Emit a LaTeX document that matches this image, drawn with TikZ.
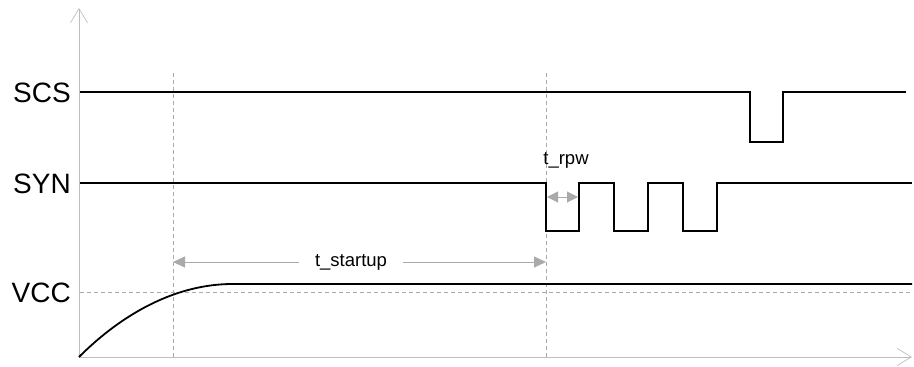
\documentclass[tikz,border=0pt]{standalone}
\usepackage{fontspec}
\setmainfont{Liberation Sans}
\usetikzlibrary{positioning, arrows.meta}

\definecolor{axisgray}{RGB}{190,190,190}
\definecolor{dimgray}{RGB}{170,170,170}

\tikzset{
  sig/.style={line width=1.8pt, line join=miter},
  guide/.style={dimgray, line width=0.7pt, dash pattern=on 4pt off 3pt},
  axis/.style={axisgray, line width=0.9pt, -{Straight Barb[length=14pt,width=17pt,line width=0.7pt]}},
  dimline/.style={dimgray, line width=1pt},
  dimtip/.style={-{Triangle[length=12pt,width=11pt]}},
  siglabel/.style={anchor=east, inner sep=0pt, font=\fontsize{28}{30}\selectfont},
  timelabel/.style={inner sep=0pt, font=\fontsize{18.5}{20}\selectfont}
}

\begin{document}
\begin{tikzpicture}[x=1pt,y=-1pt]
  \useasboundingbox (0,0) rectangle (914,367);

  % axes
  \coordinate (O) at (79,357);
  \coordinate (ytop) at (79,8);
  \coordinate (xend) at (912,357);
  \draw[axis] (O) -- (ytop);
  \draw[axis] (O) -- (xend);

  % signal names
  \node[siglabel] (scs) at (71,93) {SCS};
  \node[siglabel] (syn) at (71,184) {SYN};
  \node[siglabel] (vcc) at (71,293) {VCC};

  % guides
  \coordinate (g0top) at (173,73);
  \coordinate (g0bot) at (173,357);
  \coordinate (g1top) at (546,73);
  \coordinate (g1bot) at (546,357);
  \coordinate (vl) at (80,292);
  \coordinate (vr) at (912,292);
  \draw[guide] (g0top) -- (g0bot);
  \draw[guide] (g1top) -- (g1bot);
  \draw[guide] (vl) -- (vr);

  % waveforms
  \draw[sig] (80,92) -- (750,92) -- (750,142) -- (783,142) -- (783,92) -- (906,92);
  \draw[sig] (80,183) -- (546,183) -- (546,231) -- (579,231) -- (579,183)
    -- (614,183) -- (614,231) -- (648,231) -- (648,183)
    -- (683,183) -- (683,231) -- (717,231) -- (717,183) -- (912,183);
  \draw[sig] (O) .. controls (100,336) and (158,283) .. (235,284) -- (912,284);

  % timing marks
  \node[timelabel, inner xsep=16pt] (tsu) at (351,262) {t\_startup};
  \coordinate (su0) at (173,262);
  \coordinate (su1) at (546,262);
  \draw[dimline, dimtip] (tsu.west) -- (su0);
  \draw[dimline, dimtip] (tsu.east) -- (su1);

  \node[timelabel] (trpw) at (566,160) {t\_rpw};
  \coordinate (rp0) at (547,197);
  \coordinate (rp1) at (578,197);
  \draw[dimline, {Triangle[length=11pt,width=11pt]}-{Triangle[length=11pt,width=11pt]}] (rp0) -- (rp1);
\end{tikzpicture}
\end{document}
